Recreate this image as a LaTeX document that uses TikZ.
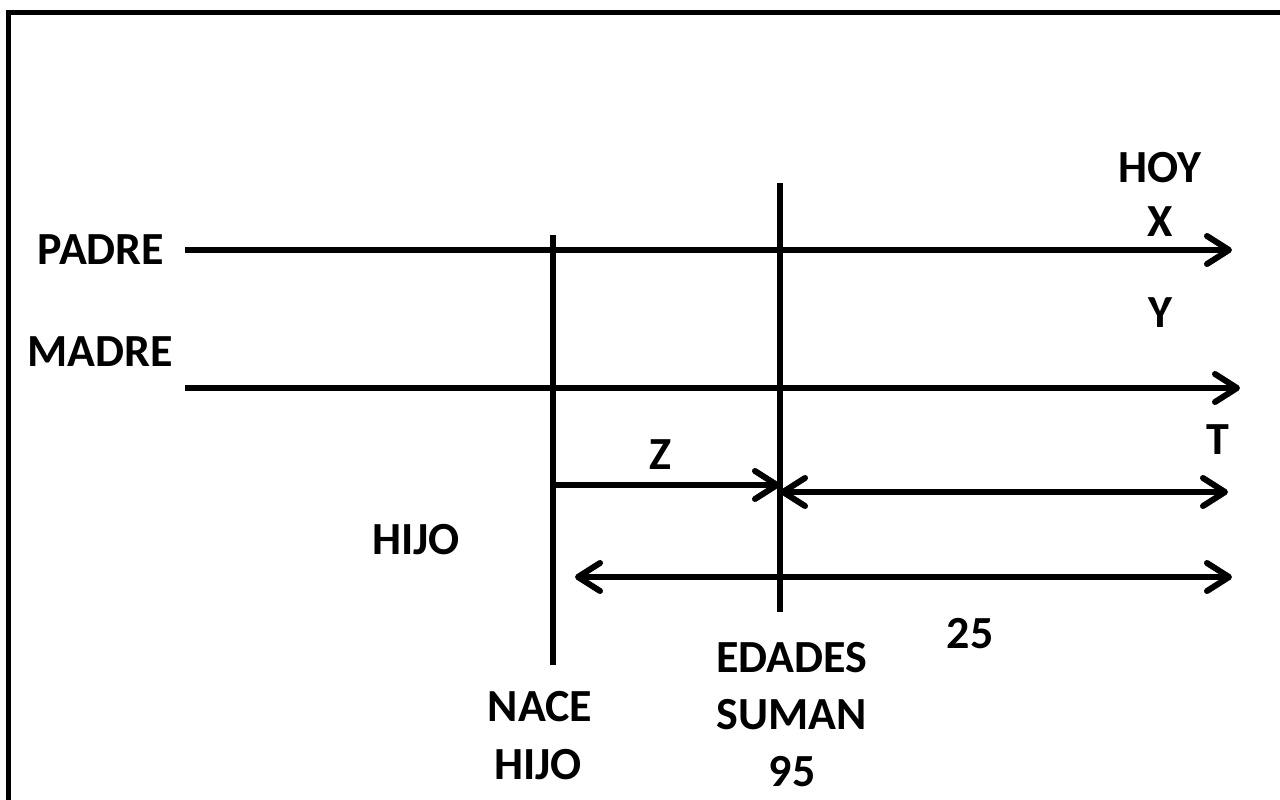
\documentclass[tikz,border=0pt]{standalone}
\usepackage{fontspec}
\setmainfont{Carlito}
\usetikzlibrary{arrows.meta}
\begin{document}
\begin{tikzpicture}[x=1pt,y=-1pt,
  conn/.style={line width=6pt},
  barb/.tip={Straight Barb[length=22pt,width=28pt,line width=6pt,round]},
  arr/.style={conn,-barb},
  darr/.style={conn,barb-barb},
  lbl/.style={font=\fontsize{46}{55}\selectfont\bfseries, inner sep=0pt}]
\useasboundingbox (0,0) rectangle (1280,800);
\coordinate (fbl) at (8,800);
\coordinate (ftl) at (8,13);
\coordinate (ftr) at (1280,13);
\draw[line width=5pt] (fbl) -- (ftl) -- (ftr);
% coordinates
\coordinate (padreS) at (185,250);
\coordinate (padreE) at (1232,250);
\coordinate (madreS) at (185,388);
\coordinate (madreE) at (1240,388);
\coordinate (naceT) at (553,235);
\coordinate (naceB) at (553,665);
\coordinate (edadT) at (780,183);
\coordinate (edadB) at (780,612);
\coordinate (zS) at (553,485);
\coordinate (zE) at (780,485);
\coordinate (tS) at (780,492);
\coordinate (tE) at (1228,492);
\coordinate (vS) at (575,577);
\coordinate (vE) at (1232,577);
% lines
\draw[arr] (padreS) -- (padreE);
\draw[arr] (madreS) -- (madreE);
\draw[conn] (naceT) -- (naceB);
\draw[conn] (edadT) -- (edadB);
\draw[arr] (zS) -- (zE);
\draw[darr] (tS) -- (tE);
\draw[darr] (vS) -- (vE);
% labels
\node[lbl] (padre) at (101,250) {PADRE};
\node[lbl] (madre) at (100,352) {MADRE};
\node[lbl] (hoy) at (1160,168) {HOY};
\node[lbl] (x) at (1160,222) {X};
\node[lbl] (y) at (1160,313) {Y};
\node[lbl] (z) at (660,455) {Z};
\node[lbl] (t) at (1218,440) {T};
\node[lbl] (hijo) at (416,540) {HIJO};
\node[lbl] (nace1) at (540,707) {NACE};
\node[lbl] (nace2) at (538,765) {HIJO};
\node[lbl] (ed1) at (792,658) {EDADES};
\node[lbl] (ed2) at (792,715) {SUMAN};
\node[lbl] (ed3) at (792,772) {95};
\node[lbl] (v25) at (970,634) {25};
\end{tikzpicture}
\end{document}
